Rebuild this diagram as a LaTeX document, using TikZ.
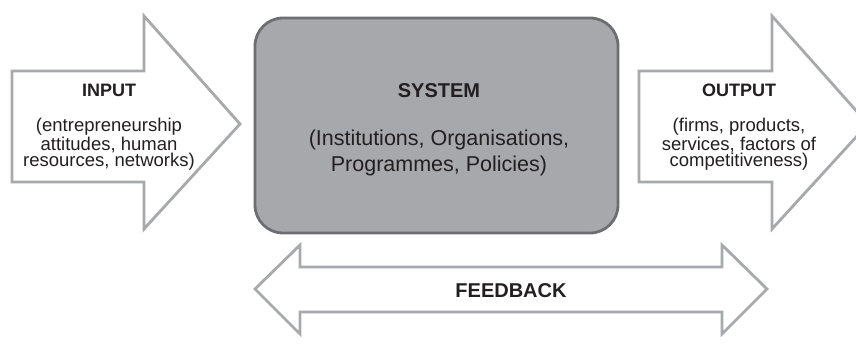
\documentclass[tikz,border=0pt]{standalone}
\usepackage{fontspec}
\setmainfont{Liberation Sans}
\definecolor{arrgray}{HTML}{A7A9AC}
\definecolor{boxfill}{HTML}{A7A8AB}
\definecolor{boxline}{HTML}{6D6E71}
\definecolor{txt}{HTML}{231F20}
\tikzset{
  arrowshape/.style={draw=arrgray, line width=2.8pt, fill=white, line join=miter},
  sysbox/.style={draw=boxline, line width=2.8pt, fill=boxfill, rounded corners=28pt},
  title/.style={font=\fontsize{18}{18}\selectfont\bfseries, text=txt, anchor=base},
  body/.style={font=\fontsize{18.5}{16.8}\selectfont, text=txt, align=center, anchor=north},
}
\begin{document}
\begin{tikzpicture}[x=1pt,y=-1pt]
\clip (0,0) rectangle (856,347);
\fill[white] (0,0) rectangle (856,347);
% input arrow
\draw[arrowshape] (12,71) -- (144,71) -- (144,16) -- (240,124) -- (144,229) -- (144,182) -- (12,182) -- cycle;
% output arrow
\draw[arrowshape] (639,71) -- (772,71) -- (772,16) -- (868,124) -- (772,229) -- (772,182) -- (639,182) -- cycle;
% system
\draw[sysbox] (255,18) rectangle (618,233);
% feedback
\draw[arrowshape] (255,289) -- (300,245) -- (300,267) -- (722,267) -- (722,245) -- (767,289) -- (722,334) -- (722,312) -- (300,312) -- (300,334) -- cycle;
% texts
\node[title] (inT) at (109,97) {INPUT};
\node[body] (inB) at (109,115) {(entrepreneurship\\attitudes, human\\resources, networks)};
\node[title] (outT) at (739,97) {OUTPUT};
\node[body] (outB) at (739,115) {(firms, products,\\services, factors of\\competitiveness)};
\node[title, font=\fontsize{20}{20}\selectfont\bfseries] (sysT) at (439,98) {SYSTEM};
\node[body, font=\fontsize{21.5}{26}\selectfont] (sysB) at (439,126) {(Institutions, Organisations,\\Programmes, Policies)};
\node[title, font=\fontsize{20}{20}\selectfont\bfseries] (fbT) at (511,297) {FEEDBACK};
\end{tikzpicture}
\end{document}
